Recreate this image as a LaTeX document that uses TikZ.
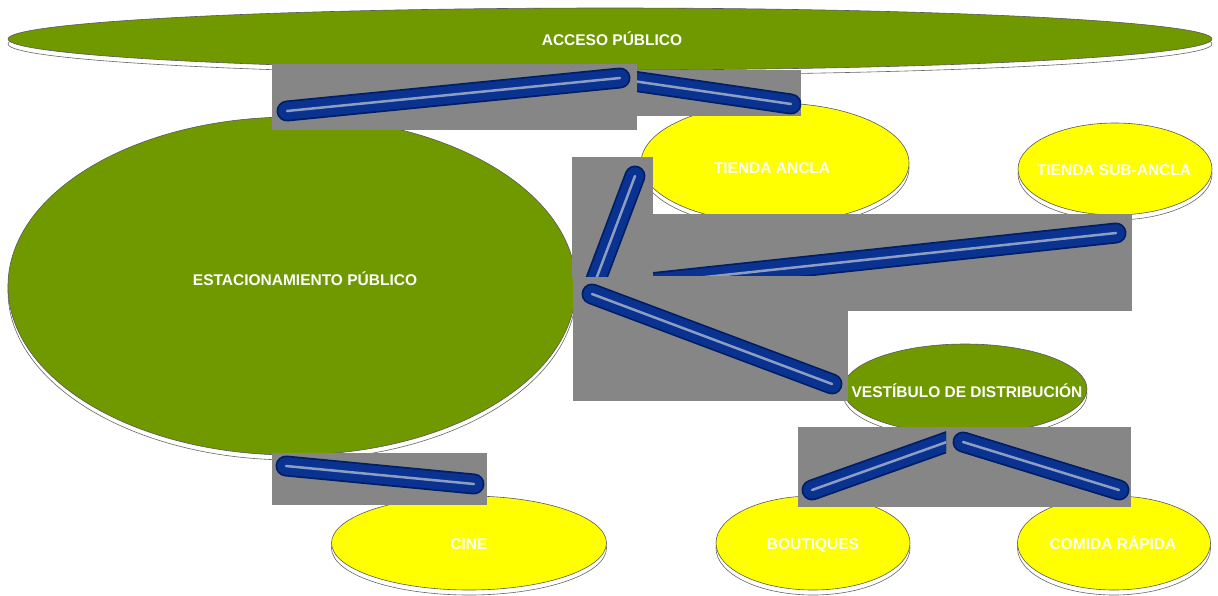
\documentclass[tikz,border=0pt]{standalone}
\usepackage{fontspec}
\setmainfont{Liberation Sans}
\usetikzlibrary{shapes.geometric}
\definecolor{grn}{HTML}{709900}
\definecolor{ylw}{HTML}{FFFF00}
\definecolor{gry}{HTML}{868686}
\definecolor{bluo}{HTML}{001E66}
\definecolor{blum}{HTML}{0A3290}
\definecolor{blui}{HTML}{8E9EC0}
\tikzset{
  oval/.style={ellipse, inner sep=0pt, draw=black!65, line width=0.6pt},
  shad/.style={ellipse, inner sep=0pt, draw=black!60, fill=white, line width=0.6pt},
  lbl/.style={text=white, font=\bfseries\fontsize{15.5}{17}\selectfont, inner sep=0pt,
    text height=11pt, text depth=0pt},
  gbox/.style={fill=gry},
  pipeout/.style={draw=bluo, line width=21pt, line cap=round},
  pipemid/.style={draw=blum, line width=17.5pt, line cap=round},
  pipein/.style={draw=blui, line width=2.5pt, line cap=round},
}
\newcommand\ovalnode[6]{%
  \node[shad, minimum width=#4pt, minimum height=#5pt] (#1s) at (#2,#3+5) {};
  \node[oval, fill=#6, minimum width=#4pt, minimum height=#5pt] (#1) at (#2,#3) {};}
\newcommand\pipeline[2]{%
  \draw[pipeout] (#1) -- (#2);
  \draw[pipemid] (#1) -- (#2);
  \draw[pipein] (#1) -- (#2);}
\begin{document}
\begin{tikzpicture}[x=1pt,y=-1pt]
\useasboundingbox (0,0) rectangle (1218,595);
% ellipses
\ovalnode{acc}{610}{39}{1204}{62}{grn}
\ovalnode{est}{292}{286}{568}{338}{grn}
\ovalnode{anc}{775}{163}{268}{120}{ylw}
\ovalnode{sub}{1115}{169}{194}{92}{ylw}
\ovalnode{ves}{965}{389}{244}{90}{grn}
\ovalnode{cin}{469}{543}{275}{94}{ylw}
\ovalnode{bou}{813}{543}{194}{94}{ylw}
\ovalnode{com}{1114}{543}{193}{94}{ylw}
% labels
\node[lbl] (tacc) at (612,40) {ACCESO PÚBLICO};
\node[lbl] (test) at (305,280) {ESTACIONAMIENTO PÚBLICO};
\node[lbl] (tanc) at (772,168) {TIENDA ANCLA};
\node[lbl] (tsub) at (1114,170) {TIENDA SUB-ANCLA};
\node[lbl] (tves) at (967,392) {VESTÍBULO DE DISTRIBUCIÓN};
\node[lbl] (tcin) at (469,544) {CINE};
\node[lbl] (tbou) at (813,544) {BOUTIQUES};
\node[lbl] (tcom) at (1113,544) {COMIDA RÁPIDA};
% connector A
\path[gbox] (272,64) rectangle (637,130);
\coordinate (a1) at (287,111); \coordinate (a2) at (620,78);
\pipeline{a1}{a2}
% connector B
\path[gbox] (637,70) rectangle (801,116);
\begin{scope}
  \clip (637,70) rectangle (801,116);
  \coordinate (b1) at (626,80); \coordinate (b2) at (791,104);
  \pipeline{b1}{b2}
\end{scope}
% connector C
\path[gbox] (572,157) rectangle (653,277);
\coordinate (c1) at (635,176); \coordinate (c2) at (592,290);
\begin{scope}
  \clip (572,157) rectangle (653,277);
  \pipeline{c1}{c2}
\end{scope}
% connector D
\path[gbox] (653,214) rectangle (1132,311);
\coordinate (d1) at (640,284); \coordinate (d2) at (1116,233);
\begin{scope}
  \clip (653,214) rectangle (1132,275);
  \pipeline{d1}{d2}
\end{scope}
% connector E
\path[gbox] (573,277) rectangle (848,401);
\coordinate (e1) at (592,294); \coordinate (e2) at (832,384);
\pipeline{e1}{e2}
% connector F
\path[gbox] (272,453) rectangle (487,505);
\coordinate (f1) at (286,466); \coordinate (f2) at (474,484);
\pipeline{f1}{f2}
% connectors G
\path[gbox] (798,427) rectangle (1131,507);
\begin{scope}
  \clip (798,427) rectangle (946,507);
  \coordinate (g1) at (812,490); \coordinate (g2) at (958,438);
  \pipeline{g1}{g2}
\end{scope}
\coordinate (g3) at (963,442); \coordinate (g4) at (1119,490);
\pipeline{g3}{g4}
\end{tikzpicture}
\end{document}
